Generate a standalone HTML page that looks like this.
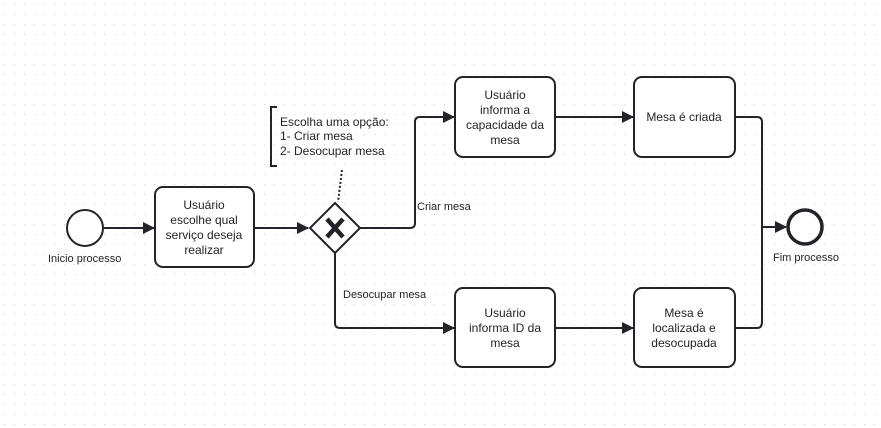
<!DOCTYPE html>
<html><head><style>
body{margin:0;background:#fff;}
svg{display:block;font-family:"Liberation Sans",Arial,sans-serif;}
</style></head><body>
<svg width="881" height="428" viewBox="0 0 881 428">
<defs>
<pattern id="g" width="10" height="10" patternUnits="userSpaceOnUse"><rect x="4" y="4" width="1" height="1" fill="#d0d0d0"/></pattern>
<marker id="a" markerWidth="12" markerHeight="12" refX="11" refY="6" orient="auto" markerUnits="userSpaceOnUse"><path d="M0,0 L12,6 L0,12 Z" fill="#22242a"/></marker>
</defs>
<rect width="881" height="428" fill="url(#g)"/>
<g fill="none" stroke="#22242a" stroke-width="2">
<line x1="103" y1="228" x2="154" y2="228" marker-end="url(#a)"/>
<line x1="254" y1="228" x2="308" y2="228" marker-end="url(#a)"/>
<path d="M360,228 H410 Q415,228 415,223 V122 Q415,117 420,117 H454" marker-end="url(#a)"/>
<path d="M335,253 V323 Q335,328 340,328 H454" marker-end="url(#a)"/>
<line x1="555" y1="117" x2="633" y2="117" marker-end="url(#a)"/>
<line x1="555" y1="328" x2="633" y2="328" marker-end="url(#a)"/>
<path d="M735,117 H757 Q762,117 762,122 V322 Q762,328 757,328 H735"/>
<line x1="762" y1="227" x2="786" y2="227" marker-end="url(#a)"/>
<path d="M277,107 H271 V166 H277"/>
<line x1="342" y1="170" x2="338" y2="202" stroke-dasharray="2,2"/>
<circle cx="85" cy="228" r="18" fill="#fff"/>
<circle cx="805" cy="227" r="17" fill="#fff" stroke-width="3.5"/>
<rect x="155" y="187" width="99" height="80" rx="8" fill="#fff"/>
<rect x="455" y="77" width="100" height="80" rx="8" fill="#fff"/>
<rect x="634" y="77" width="101" height="80" rx="8" fill="#fff"/>
<rect x="455" y="288" width="100" height="79" rx="8" fill="#fff"/>
<rect x="634" y="288" width="101" height="79" rx="8" fill="#fff"/>
<path d="M335,203 L360,228 L335,253 L310,228 Z" fill="#fff"/>
<path d="M327,219 L343,237 M343,219 L327,237" stroke-width="4.5"/>
</g>
<g fill="#22242a" font-size="12" text-anchor="middle">
<text x="204" y="209">Usuário</text>
<text x="204" y="224">escolhe qual</text>
<text x="204" y="239">serviço deseja</text>
<text x="204" y="254">realizar</text>
<text x="505" y="99">Usuário</text>
<text x="505" y="114">informa a</text>
<text x="505" y="129">capacidade da</text>
<text x="505" y="144">mesa</text>
<text x="684" y="121">Mesa é criada</text>
<text x="505" y="317">Usuário</text>
<text x="505" y="332">informa ID da</text>
<text x="505" y="347">mesa</text>
<text x="684" y="317">Mesa é</text>
<text x="684" y="332">localizada e</text>
<text x="684" y="347">desocupada</text>
</g>
<g fill="#22242a" font-size="11">
<text x="48" y="262">Inicio processo</text>
<text x="773" y="261">Fim processo</text>
<text x="417" y="210">Criar mesa</text>
<text x="343" y="298">Desocupar mesa</text>
<text x="280" y="126" font-size="12">Escolha uma opção:</text>
<text x="280" y="140" font-size="12">1- Criar mesa</text>
<text x="280" y="155" font-size="12">2- Desocupar mesa</text>
</g>
</svg>
</body></html>
